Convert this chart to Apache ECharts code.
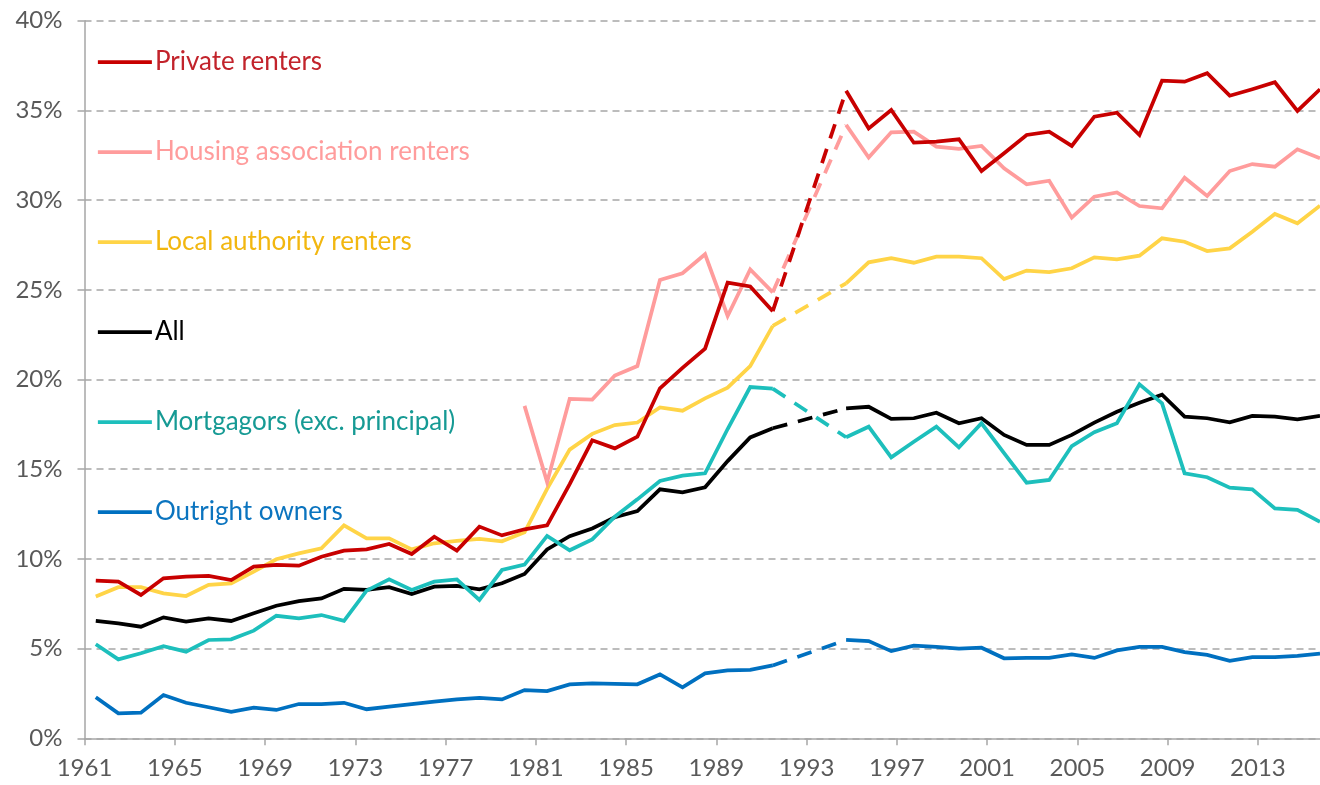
<!DOCTYPE html>
<html><head><meta charset="utf-8">
<script src="https://cdn.jsdelivr.net/npm/echarts@6/dist/echarts.min.js"></script>
<style>html,body{margin:0;padding:0;background:#fff}#c{width:1320px;height:785px}</style>
</head><body><div id="c"></div>
<script>
// Calendar-year survey data 1961-1991, financial-year data 1994-95 to 2015-16
const calendarYears = [1961,1962,1963,1964,1965,1966,1967,1968,1969,1970,1971,1972,1973,1974,1975,1976,1977,1978,1979,1980,1981,1982,1983,1984,1985,1986,1987,1988,1989,1990,1991];
const financialYears = [1994,1995,1996,1997,1998,1999,2000,2001,2002,2003,2004,2005,2006,2007,2008,2009,2010,2011,2012,2013,2014,2015];
const tickYears = [1961,1965,1969,1973,1977,1981,1985,1989,1993,1997,2001,2005,2009,2013];

const privateCal = [8.79,8.73,7.99,8.92,9.01,9.05,8.82,9.57,9.66,9.62,10.12,10.46,10.53,10.83,10.27,11.24,10.46,11.80,11.31,11.65,11.87,14.17,16.61,16.16,16.81,19.51,20.65,21.72,25.40,25.19,23.81];
const privateFY = [36.10,34.00,35.02,33.20,33.26,33.39,31.62,32.61,33.63,33.81,33.02,34.65,34.87,33.63,36.66,36.60,37.07,35.82,36.18,36.57,34.97,36.18];

const housingAssocCal = [null,null,null,null,null,null,null,null,null,null,null,null,null,null,null,null,null,null,null,18.53,14.28,18.92,18.88,20.22,20.75,25.55,25.92,26.98,23.54,26.14,24.86];
const housingAssocFY = [34.19,32.37,33.78,33.81,32.98,32.85,33.02,31.77,30.88,31.08,29.02,30.19,30.43,29.67,29.54,31.25,30.23,31.62,32.01,31.86,32.83,32.33];

const localAuthCal = [7.90,8.42,8.42,8.08,7.93,8.55,8.64,9.29,9.98,10.31,10.59,11.87,11.15,11.15,10.53,10.87,11.01,11.12,10.98,11.48,13.90,16.09,16.97,17.46,17.60,18.44,18.26,18.95,19.55,20.75,22.99];
const localAuthFY = [25.36,26.53,26.76,26.51,26.85,26.85,26.76,25.60,26.07,25.98,26.20,26.81,26.70,26.90,27.87,27.68,27.16,27.31,28.24,29.23,28.71,29.69];

const allCal = [6.54,6.41,6.22,6.74,6.50,6.69,6.54,6.97,7.39,7.65,7.80,8.33,8.27,8.42,8.04,8.45,8.49,8.30,8.64,9.16,10.53,11.27,11.70,12.32,12.67,13.88,13.71,13.99,15.45,16.77,17.28];
const allFY = [18.39,18.48,17.80,17.84,18.15,17.56,17.84,16.91,16.35,16.35,16.91,17.60,18.20,18.70,19.15,17.93,17.84,17.61,17.97,17.93,17.78,17.97];

const mortgagorCal = [5.24,4.40,4.74,5.14,4.83,5.48,5.52,6.00,6.83,6.69,6.87,6.55,8.23,8.86,8.27,8.73,8.86,7.71,9.38,9.68,11.28,10.48,11.09,12.35,13.32,14.34,14.64,14.77,17.24,19.58,19.49];
const mortgagorFY = [16.78,17.37,15.66,16.53,17.37,16.22,17.56,15.89,14.25,14.40,16.29,17.06,17.56,19.73,18.67,14.77,14.55,13.97,13.88,12.82,12.73,12.07];

const outrightCal = [2.29,1.39,1.43,2.41,1.98,1.73,1.48,1.71,1.58,1.91,1.91,1.98,1.62,1.76,1.91,2.04,2.17,2.26,2.17,2.69,2.63,3.00,3.06,3.03,3.01,3.56,2.84,3.62,3.78,3.82,4.06];
const outrightFY = [5.48,5.42,4.86,5.16,5.10,5.00,5.05,4.46,4.48,4.48,4.68,4.48,4.90,5.10,5.10,4.80,4.65,4.32,4.53,4.53,4.60,4.72];

// calendar years plotted at mid-year; financial years (Apr-Mar) at their midpoint
const CAL_MID = 0.5, FY_MID = 0.75;
const FONT = 'Lato';
const LW = 3.75;

const tenures = [
  {name:'All', cal:allCal, fy:allFY, color:'#000000', text:'#000000'},
  {name:'Outright owners', cal:outrightCal, fy:outrightFY, color:'#0070C0', text:'#0B74BF'},
  {name:'Mortgagors (exc. principal)', cal:mortgagorCal, fy:mortgagorFY, color:'#1DBFBC', text:'#169A94'},
  {name:'Local authority renters', cal:localAuthCal, fy:localAuthFY, color:'#FFD447', text:'#F2B710'},
  {name:'Housing association renters', cal:housingAssocCal, fy:housingAssocFY, color:'#FF9C9C', text:'#FF9C9C'},
  {name:'Private renters', cal:privateCal, fy:privateFY, color:'#C80000', text:'#C2232B'}
];
const legendOrder = ['Private renters','Housing association renters','Local authority renters','All','Mortgagors (exc. principal)','Outright owners'];

const series = [];
tenures.forEach(t => {
  const solid = [];
  calendarYears.forEach((y,i) => { if (t.cal[i] != null) solid.push([y + CAL_MID, t.cal[i]]); });
  solid.push([1993, null]);
  financialYears.forEach((y,i) => solid.push([y + FY_MID, t.fy[i]]));
  const lastCal = calendarYears.length - 1;
  series.push({
    name: t.name + ' (break)', type:'line', symbol:'none', silent:true,
    data: [[calendarYears[lastCal] + CAL_MID, t.cal[lastCal]], [financialYears[0] + FY_MID, t.fy[0]]],
    lineStyle:{color:t.color, width:LW, type:[15,11], cap:'butt'}, itemStyle:{color:t.color}
  });
  series.push({
    name: t.name, type:'line', symbol:'none', connectNulls:false,
    data: solid,
    lineStyle:{color:t.color, width:LW, join:'miter'}, itemStyle:{color:t.color}
  });
});

const chart = echarts.init(document.getElementById('c'), null, {renderer:'canvas'});
chart.setOption({
  animation:false,
  backgroundColor:'#ffffff',
  grid:{left:84.5, right:0, top:20.7, bottom:46.7, containLabel:false},
  legend:{
    orient:'vertical', left:96, top:47, padding:0, itemWidth:54, itemHeight:4, itemGap:60,
    selectedMode:false,
    lineStyle:{width:LW},
    itemStyle:{opacity:0, borderWidth:0},
    textStyle:{fontFamily:FONT, fontSize:26, lineHeight:30, padding:[0,0,0,-2]},
    data: legendOrder.map(n => {
      const t = tenures.find(x => x.name === n);
      return {name:n, textStyle:{color:t.text}};
    })
  },
  xAxis:{
    type:'value', min:1961, max:2015.75,
    axisLine:{show:true, lineStyle:{color:'#A6A6A6', width:1.5}},
    axisTick:{show:true, length:7, customValues:tickYears, lineStyle:{color:'#A6A6A6', width:1.5}},
    axisLabel:{customValues:tickYears, fontFamily:FONT, fontSize:24, color:'#595959', margin:18,
               formatter: v => String(v)},
    splitLine:{show:false}
  },
  yAxis:{
    type:'value', min:0, max:40, interval:5,
    axisLine:{show:true, lineStyle:{color:'#A6A6A6', width:1.5}},
    axisTick:{show:true, length:7, lineStyle:{color:'#A6A6A6', width:1.5}},
    axisLabel:{formatter:'{value}%', fontFamily:FONT, fontSize:24, color:'#595959', margin:22},
    splitLine:{show:true, lineStyle:{color:'#A6A6A6', width:1.5, type:[7,5]}}
  },
  series: series
});
</script></body></html>
